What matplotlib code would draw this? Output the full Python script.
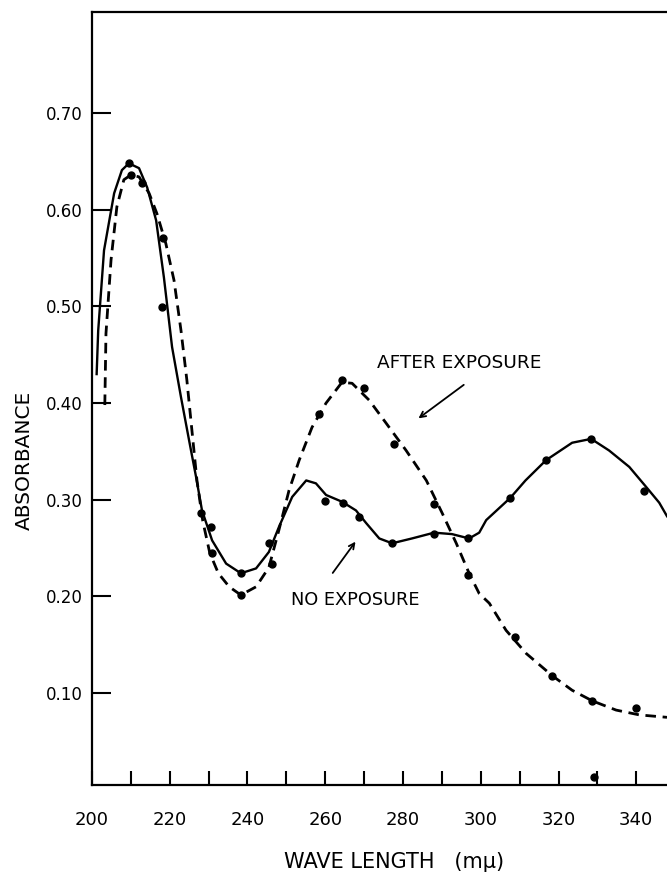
import matplotlib
matplotlib.use("Agg")
import matplotlib.pyplot as plt

# Courbe "no exposure" (trait plein)
no_exp_x = [201.2, 201.6, 203.1, 205.7, 207.7, 209.5, 212.1, 214.2, 216.5, 218.5,
            220.6, 222.9, 225.0, 226.8, 228.3, 230.9, 234.5, 238.3, 242.2, 245.5,
            248.1, 251.5, 255.1, 257.6, 260.2, 264.3, 267.9, 270.5, 273.9, 277.2,
            282.3, 288.0, 292.6, 297.0, 299.6, 301.4, 307.6, 311.5, 316.8, 323.5,
            328.4, 333.0, 338.2, 342.6, 345.9, 347.9]
no_exp_y = [0.430, 0.475, 0.558, 0.617, 0.641, 0.648, 0.643, 0.623, 0.589, 0.530,
            0.458, 0.406, 0.361, 0.323, 0.289, 0.258, 0.234, 0.224, 0.229, 0.246,
            0.272, 0.303, 0.320, 0.317, 0.305, 0.298, 0.289, 0.276, 0.260, 0.255,
            0.260, 0.266, 0.2645, 0.260, 0.266, 0.279, 0.302, 0.320, 0.341, 0.359,
            0.363, 0.351, 0.334, 0.313, 0.297, 0.283]

# Courbe "after exposure" (tirets)
after_x = [203.3, 203.6, 204.9, 206.4, 208.2, 210.0, 212.1, 214.7, 216.7, 219.0,
           221.1, 222.9, 224.4, 225.7, 227.0, 228.5, 230.3, 232.5, 235.3, 238.3,
           242.2, 245.5, 248.1, 250.7, 253.3, 256.6, 260.2, 264.3, 266.9, 271.3,
           275.7, 280.8, 286.0, 290.1, 293.7, 297.0, 299.6, 302.2, 306.5, 311.7,
           318.4, 323.5, 328.7, 334.8, 340.8, 347.9]
after_y = [0.398, 0.472, 0.548, 0.603, 0.631, 0.636, 0.634, 0.617, 0.596, 0.565,
           0.527, 0.475, 0.424, 0.372, 0.320, 0.278, 0.245, 0.224, 0.210, 0.2015,
           0.210, 0.230, 0.269, 0.310, 0.341, 0.375, 0.400, 0.4215, 0.4205, 0.403,
           0.379, 0.351, 0.320, 0.286, 0.255, 0.224, 0.203, 0.193, 0.165, 0.141,
           0.118, 0.103, 0.092, 0.0825, 0.0775, 0.075]

# Points mesurés
dots_no_x = [209.5, 218.0, 228.0, 230.6, 238.3, 245.5, 260.0, 264.6, 268.7, 277.2,
             288.0, 296.8, 307.6, 316.8, 328.4, 342.0]
dots_no_y = [0.648, 0.499, 0.286, 0.272, 0.224, 0.255, 0.299, 0.2965, 0.282, 0.255,
             0.265, 0.260, 0.302, 0.341, 0.363, 0.309]
dots_after_x = [210.0, 212.9, 218.3, 230.9, 238.3, 246.3, 258.4, 264.3, 270.0, 277.7,
                288.0, 296.8, 308.9, 318.4, 328.7, 340.0, 329.0]
dots_after_y = [0.636, 0.628, 0.571, 0.245, 0.2015, 0.234, 0.389, 0.424, 0.416, 0.358,
                0.296, 0.222, 0.158, 0.118, 0.092, 0.0845, 0.013]

x_ticks = list(range(200, 350, 10))
x_labels = [str(t) if t % 20 == 0 else "" for t in x_ticks]
y_ticks = [0.10, 0.20, 0.30, 0.40, 0.50, 0.60, 0.70]
y_labels = ["0.10", "0.20", "0.30", "0.40", "0.50", "0.60", "0.70"]

fig = plt.figure(figsize=(6.67, 8.77), dpi=100)
ax = fig.add_axes([0.1379, 0.1049, 0.8621, 0.8814])

ax.plot(no_exp_x, no_exp_y, color="black", lw=1.7, solid_joinstyle="round")
ax.plot(after_x, after_y, color="black", lw=2.0, dashes=(3.8, 2.4))
ax.plot(dots_no_x, dots_no_y, "o", color="black", ms=5)
ax.plot(dots_after_x, dots_after_y, "o", color="black", ms=5)

ax.set_xlim(200, 347.9)
ax.set_ylim(0.005, 0.8045)

ax.spines["right"].set_visible(False)
for s in ["left", "bottom", "top"]:
    ax.spines[s].set_linewidth(1.6)

ax.set_xticks(x_ticks)
ax.set_xticklabels(x_labels)
ax.set_yticks(y_ticks)
ax.set_yticklabels(y_labels)
ax.tick_params(axis="x", direction="in", length=10, width=1.5, pad=19, labelsize=13)
ax.tick_params(axis="y", direction="in", length=14, width=1.5, pad=7, labelsize=12)

ax.annotate("", xy=(283.4, 0.3825), xytext=(296.2, 0.4206),
            arrowprops=dict(arrowstyle="->", color="black", lw=1.3))
ax.text(294.4, 0.441, "AFTER EXPOSURE", ha="center", va="center", fontsize=13.3)
ax.annotate("", xy=(268.2, 0.259), xytext=(261.5, 0.222),
            arrowprops=dict(arrowstyle="->", color="black", lw=1.3))
ax.text(267.7, 0.196, "NO EXPOSURE", ha="center", va="center", fontsize=12.8)

fig.text(394 / 667, 1 - 862 / 877, "WAVE LENGTH   (mμ)", ha="center", va="center", fontsize=15)
fig.text(24 / 667, 1 - 460 / 877, "ABSORBANCE", ha="center", va="center",
         rotation=90, fontsize=14.5)

plt.savefig("out.png", dpi=100)
plt.close()
